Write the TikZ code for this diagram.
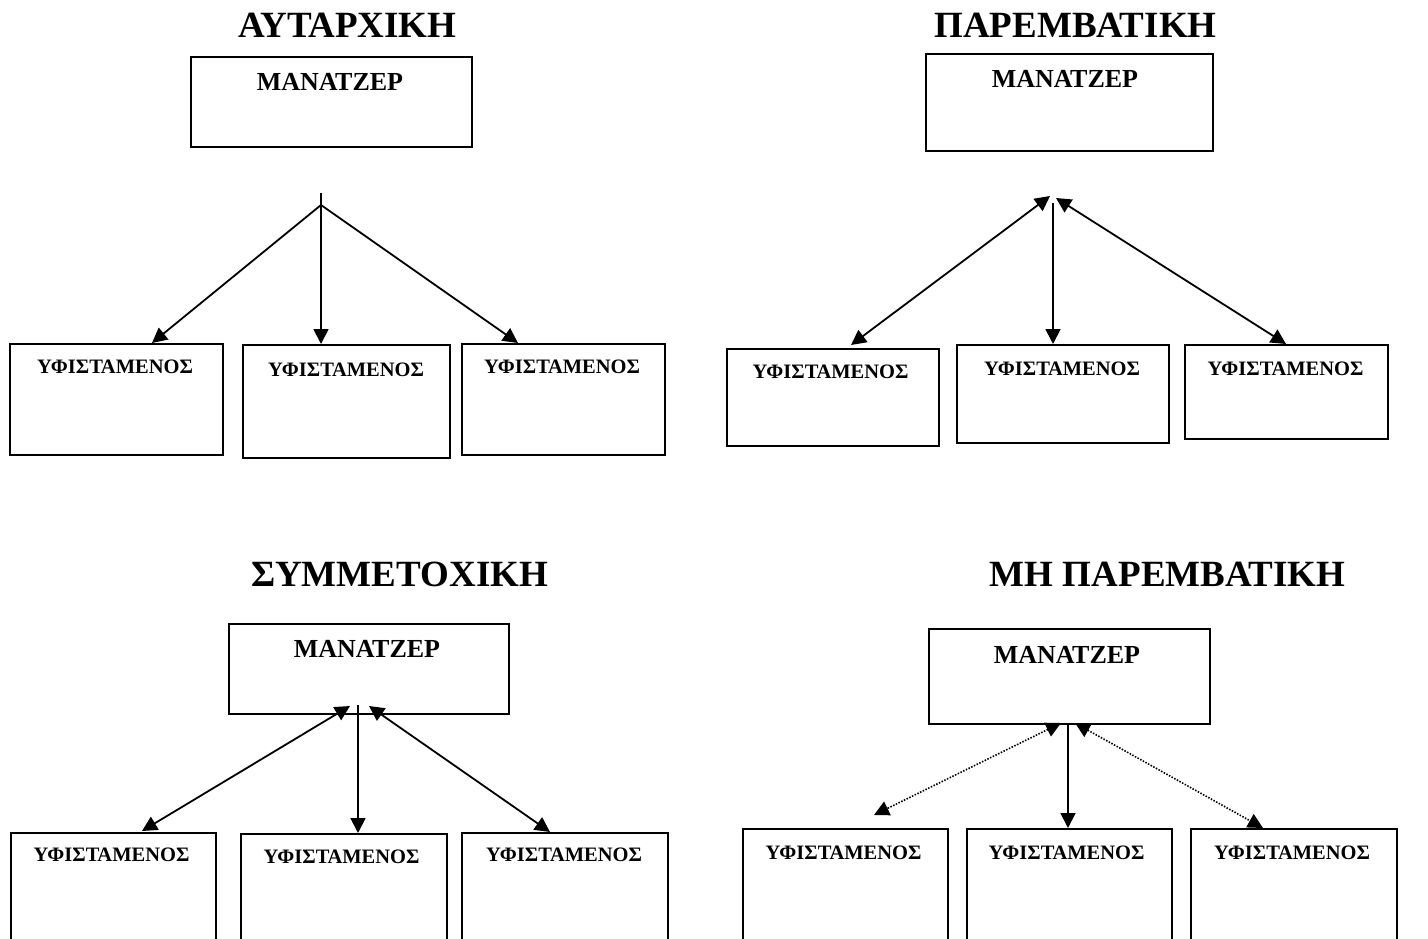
\documentclass[tikz,border=0pt]{standalone}
\usepackage{fontspec}
\setmainfont{Liberation Serif}
\usetikzlibrary{arrows.meta}
\begin{document}
\begin{tikzpicture}[x=1pt,y=-1pt,
  box/.style={draw, line width=2pt, fill=white, anchor=north west, inner sep=0pt},
  ttl/.style={font=\fontsize{37}{40}\selectfont\bfseries, anchor=base, inner sep=0pt},
  mgr/.style={font=\fontsize{26}{30}\selectfont\bfseries, anchor=base, inner sep=0pt},
  sub/.style={font=\fontsize{20.5}{24}\selectfont\bfseries, anchor=base, inner sep=0pt},
  tip/.tip={Triangle[length=15pt,width=15pt]},
  link/.style={line width=1.8pt, -tip},
  both/.style={line width=1.8pt, tip-tip},
  dotline/.style={line width=1.6pt, dash pattern=on 1.5pt off 1.5pt}]

\clip (0,0) rectangle (1428,939);
\fill[white] (0,0) rectangle (1428,939);

% ---------------- upper left: autocratic ----------------
\node[ttl] (t1) at (347.5,38) {ΑΥΤΑΡΧΙΚΗ};
\node[box, minimum width=281pt, minimum height=90pt] (m1) at (190,56) {};
\node[mgr] (m1t) at (330,91) {ΜΑΝΑΤΖΕΡ};
\node[box, minimum width=213pt, minimum height=111pt] (s11) at (9,343) {};
\node[box, minimum width=207pt, minimum height=113pt] (s12) at (242,344) {};
\node[box, minimum width=203pt, minimum height=111pt] (s13) at (461,343) {};
\node[sub] at (115,373) {ΥΦΙΣΤΑΜΕΝΟΣ};
\node[sub] at (346,376) {ΥΦΙΣΤΑΜΕΝΟΣ};
\node[sub] at (562,373) {ΥΦΙΣΤΑΜΕΝΟΣ};
\coordinate (p1top) at (321,193);
\coordinate (p1hub) at (321,205);
\coordinate (p1l) at (152,343);
\coordinate (p1r) at (518,343);
\draw[link] (p1top) -- (s12.north -| p1top);
\draw[link] (p1hub) -- (p1l);
\draw[link] (p1hub) -- (p1r);

% ---------------- upper right: interventionist ----------------
\node[ttl] (t2) at (1075.5,38) {ΠΑΡΕΜΒΑΤΙΚΗ};
\node[box, minimum width=287pt, minimum height=97pt] (m2) at (925,53) {};
\node[mgr] (m2t) at (1065,88) {ΜΑΝΑΤΖΕΡ};
\node[box, minimum width=212pt, minimum height=97pt] (s21) at (726,348) {};
\node[box, minimum width=212pt, minimum height=98pt] (s22) at (956,344) {};
\node[box, minimum width=203pt, minimum height=94pt] (s23) at (1184,344) {};
\node[sub] at (830.5,378) {ΥΦΙΣΤΑΜΕΝΟΣ};
\node[sub] at (1062,375) {ΥΦΙΣΤΑΜΕΝΟΣ};
\node[sub] at (1285.5,375) {ΥΦΙΣΤΑΜΕΝΟΣ};
\coordinate (p2l) at (1050,196);
\coordinate (p2v) at (1053,203);
\coordinate (p2r) at (1056,198);
\coordinate (p2ll) at (851,345);
\coordinate (p2rr) at (1286,344);
\draw[both] (p2l) -- (p2ll);
\draw[link] (p2v) -- (s22.north -| p2v);
\draw[both] (p2r) -- (p2rr);

% ---------------- lower left: participative ----------------
\node[ttl] (t3) at (399.5,586) {ΣΥΜΜΕΤΟΧΙΚΗ};
\node[box, minimum width=280pt, minimum height=90pt] (m3) at (228,623) {};
\node[mgr] (m3t) at (367,657) {ΜΑΝΑΤΖΕΡ};
\node[box, minimum width=205pt, minimum height=130pt] (s31) at (10,832) {};
\node[box, minimum width=206pt, minimum height=130pt] (s32) at (240,833) {};
\node[box, minimum width=206pt, minimum height=130pt] (s33) at (461,832) {};
\node[sub] at (111.5,861) {ΥΦΙΣΤΑΜΕΝΟΣ};
\node[sub] at (341.5,863) {ΥΦΙΣΤΑΜΕΝΟΣ};
\node[sub] at (564,861) {ΥΦΙΣΤΑΜΕΝΟΣ};
\coordinate (p3l) at (350,706);
\coordinate (p3v) at (358,705);
\coordinate (p3r) at (369,706);
\coordinate (p3ll) at (142,831);
\coordinate (p3rr) at (550,832);
\draw[both] (p3l) -- (p3ll);
\draw[link] (p3v) -- (s32.north -| p3v);
\draw[both] (p3r) -- (p3rr);

% ---------------- lower right: non-interventionist ----------------
\node[ttl] (t4) at (1167.5,586) {ΜΗ ΠΑΡΕΜΒΑΤΙΚΗ};
\node[box, minimum width=281pt, minimum height=95pt] (m4) at (928,628) {};
\node[mgr] (m4t) at (1067,663) {ΜΑΝΑΤΖΕΡ};
\node[box, minimum width=205pt, minimum height=130pt] (s41) at (742,828) {};
\node[box, minimum width=205pt, minimum height=130pt] (s42) at (966,828) {};
\node[box, minimum width=206pt, minimum height=130pt] (s43) at (1190,828) {};
\node[sub] at (843.5,859) {ΥΦΙΣΤΑΜΕΝΟΣ};
\node[sub] at (1066.5,859) {ΥΦΙΣΤΑΜΕΝΟΣ};
\node[sub] at (1292,859) {ΥΦΙΣΤΑΜΕΝΟΣ};
\coordinate (p4l) at (1061,723);
\coordinate (p4v) at (1068,723);
\coordinate (p4r) at (1075,723);
\coordinate (p4ll) at (874,815);
\coordinate (p4rr) at (1263,828);
\draw[both, dotline] (p4l) -- (p4ll);
\draw[link] (p4v) -- (s42.north -| p4v);
\draw[both, dotline] (p4r) -- (p4rr);
\end{tikzpicture}
\end{document}
